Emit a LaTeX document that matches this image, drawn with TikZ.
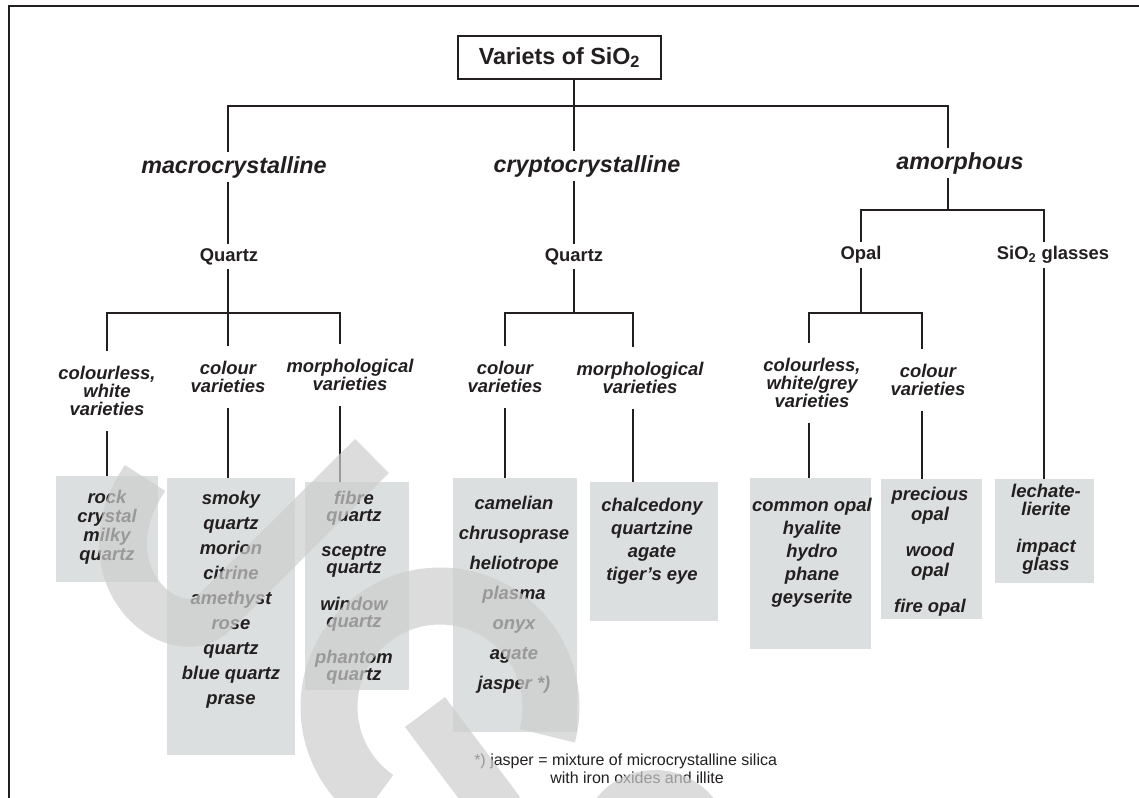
\documentclass[tikz,border=0pt]{standalone}
\usepackage{fontspec}
\setmainfont{Liberation Sans}
\usetikzlibrary{positioning}
\definecolor{ink}{HTML}{231F20}
\definecolor{boxgray}{RGB}{220,223,224}
\definecolor{wmgray}{RGB}{205,205,205}

\tikzset{
  topbox/.style={draw=ink, line width=1.5pt, fill=white, text=ink, minimum width=152.25pt, minimum height=32.25pt, font=\fontsize{17.5}{20}\selectfont\bfseries},
  kind/.style={text=ink, inner sep=3pt, font=\fontsize{17.5}{20}\selectfont\bfseries\itshape},
  form/.style={text=ink, inner sep=3pt, font=\fontsize{13.8}{16}\selectfont\bfseries},
  group/.style={text=ink, align=center, inner xsep=2pt, inner ysep=11pt, font=\fontsize{13.8}{13.5}\selectfont\bfseries\itshape, execute at begin node=\rule{0pt}{10.5pt}},
  itembox/.style={fill=boxgray, anchor=north, inner sep=0pt},
  items/.style={text=ink, align=center, anchor=north, inner sep=0pt, font=\fontsize{13.8}{#1}\selectfont\bfseries\itshape, execute at begin node=\rule{0pt}{10.5pt}},
  note/.style={text=ink, align=left, anchor=north west, inner sep=0pt, font=\fontsize{12}{13.5}\selectfont, execute at begin node=\rule{0pt}{9pt}},
  tie/.style={draw=ink, line width=1.6pt},
}

\begin{document}
\begin{tikzpicture}[x=0.75pt,y=-0.75pt]
\useasboundingbox (0,0) rectangle (1139,798);

% grey boxes
\node[itembox, minimum width=76.5pt, minimum height=79.5pt] (b1) at (107,476) {};
\node[itembox, minimum width=96pt, minimum height=207.75pt] (b2) at (231,478) {};
\node[itembox, minimum width=78pt, minimum height=156pt] (b3) at (357,482) {};
\node[itembox, minimum width=93pt, minimum height=190.5pt] (b4) at (515,478) {};
\node[itembox, minimum width=96pt, minimum height=104.25pt] (b5) at (654,482) {};
\node[itembox, minimum width=90.75pt, minimum height=128.25pt] (b6) at (810.5,478) {};
\node[itembox, minimum width=75.75pt, minimum height=105pt] (b7) at (931.5,479) {};
\node[itembox, minimum width=74.25pt, minimum height=78pt] (b8) at (1044.5,479) {};

\node[topbox] (title) at (559.5,57.5) {Variets of SiO\textsubscript{2}};

\node[kind] (macro) at (234,167) {macrocrystalline};
\node[kind] (crypto) at (587,166) {cryptocrystalline};
\node[kind] (amorph) at (960,163) {amorphous};

\node[form] (qm) at (229,257) {Quartz};
\node[form] (qc) at (574,257) {Quartz};
\node[form] (opal) at (861,255) {Opal};
\node[form] (glass) at (1053,255) {SiO\textsubscript{2} glasses};

\node[group] (cw) at (107,391) {colourless,\\white\\varieties};
\node[group] (cvm) at (228,377) {colour\\varieties};
\node[group] (mvm) at (350,375) {morphological\\varieties};
\node[group] (ccv) at (505,377) {colour\\varieties};
\node[group] (cmv) at (640,378) {morphological\\varieties};
\node[group] (ocw) at (812,383) {colourless,\\white/grey\\varieties};
\node[group] (ocv) at (928,380) {colour\\varieties};

\node[items=14.25pt] (t1) at (107,490) {rock\\crystal\\milky\\quartz};
\node[items=18.75pt] (t2) at (231,491) {smoky\\quartz\\morion\\citrine\\amethyst\\rose\\quartz\\blue quartz\\prase};
\node[items=12.75pt] (t3) at (354,491) {fibre\\quartz\\[13.5pt]sceptre\\quartz\\[13.5pt]window\\quartz\\[13.5pt]phantom\\quartz};
\node[items=22.5pt] (t4) at (514,496) {camelian\\chrusoprase\\heliotrope\\plasma\\onyx\\agate\\jasper *)};
\node[items=17.25pt] (t5) at (652,498) {chalcedony\\quartzine\\agate\\tiger’s eye};
\node[items=17.25pt] (t6) at (812,498) {common opal\\hyalite\\hydro\\phane\\geyserite};
\node[items=14.6pt] (t7) at (930,487) {precious\\opal\\[12.75pt]wood\\opal\\[12.75pt]fire opal};
\node[items=13.5pt] (t8) at (1046,484) {lechate-\\lierite\\[14.25pt]impact\\glass};

\node[note] (fn) at (474,754) {*) jasper = mixture of microcrystalline silica\\\hspace*{57pt}with iron oxides and illite};

% junctions
\coordinate (ja1) at (228,106);
\coordinate (ja0) at (574,106);
\coordinate (ja3) at (948,106);
\coordinate (jm1) at (107,313);
\coordinate (jm2) at (228,313);
\coordinate (jm3) at (340,313);
\coordinate (jc1) at (505,313);
\coordinate (jc0) at (574,313);
\coordinate (jc2) at (633,313);
\coordinate (jo0) at (948,210);
\coordinate (jo1) at (861,210);
\coordinate (jo3) at (1044,210);
\coordinate (jp1) at (809,313);
\coordinate (jp0) at (861,313);
\coordinate (jp2) at (922,313);

\draw[tie] (title.south -| ja0) -- (ja0);
\draw[tie] (ja1 |- macro.north) -- (ja1) -- (ja3) -- (ja3 |- amorph.north);
\draw[tie] (ja0) -- (ja0 |- crypto.north);
\draw[tie] (ja1 |- macro.south) -- (ja1 |- qm.north);
\draw[tie] (ja0 |- crypto.south) -- (ja0 |- qc.north);
\draw[tie] (ja3 |- amorph.south) -- (jo0);

\draw[tie] (jm2 |- qm.south) -- (jm2);
\draw[tie] (jm1 |- cw.north) -- (jm1) -- (jm3) -- (jm3 |- mvm.north);
\draw[tie] (jm2) -- (jm2 |- cvm.north);
\draw[tie] (jc0 |- qc.south) -- (jc0);
\draw[tie] (jc1 |- ccv.north) -- (jc1) -- (jc2) -- (jc2 |- cmv.north);
\draw[tie] (jo1 |- opal.north) -- (jo1) -- (jo3) -- (jo3 |- glass.north);
\draw[tie] (jp0 |- opal.south) -- (jp0);
\draw[tie] (jp1 |- ocw.north) -- (jp1) -- (jp2) -- (jp2 |- ocv.north);

\foreach \j/\g/\b in {jm1/cw/b1, jm2/cvm/b2, jm3/mvm/b3, jc1/ccv/b4, jc2/cmv/b5, jp1/ocw/b6, jp2/ocv/b7, jo3/glass/b8}
  \draw[tie] (\j |- \g.south) -- (\j |- \b.north);

% frame
\draw[ink, line width=1.5pt] (9,798) -- (9,6) -- (1139,6);

% watermark on top
\begin{scope}[transparency group, opacity=0.7]
\draw[wmgray, line width=36pt] (145,478) .. controls (80,575) and (175,652) .. (215,612) -- (372,456);
\draw[wmgray, line width=42.75pt] (440,707) ++(125:111) arc[start angle=125, end angle=375, radius=111];
\draw[wmgray, line width=37.5pt] (425,712) -- (500,812);
\draw[wmgray, line width=30pt] (655,845) ++(190:55) arc[start angle=190, end angle=350, radius=55];
\end{scope}
\end{tikzpicture}
\end{document}
